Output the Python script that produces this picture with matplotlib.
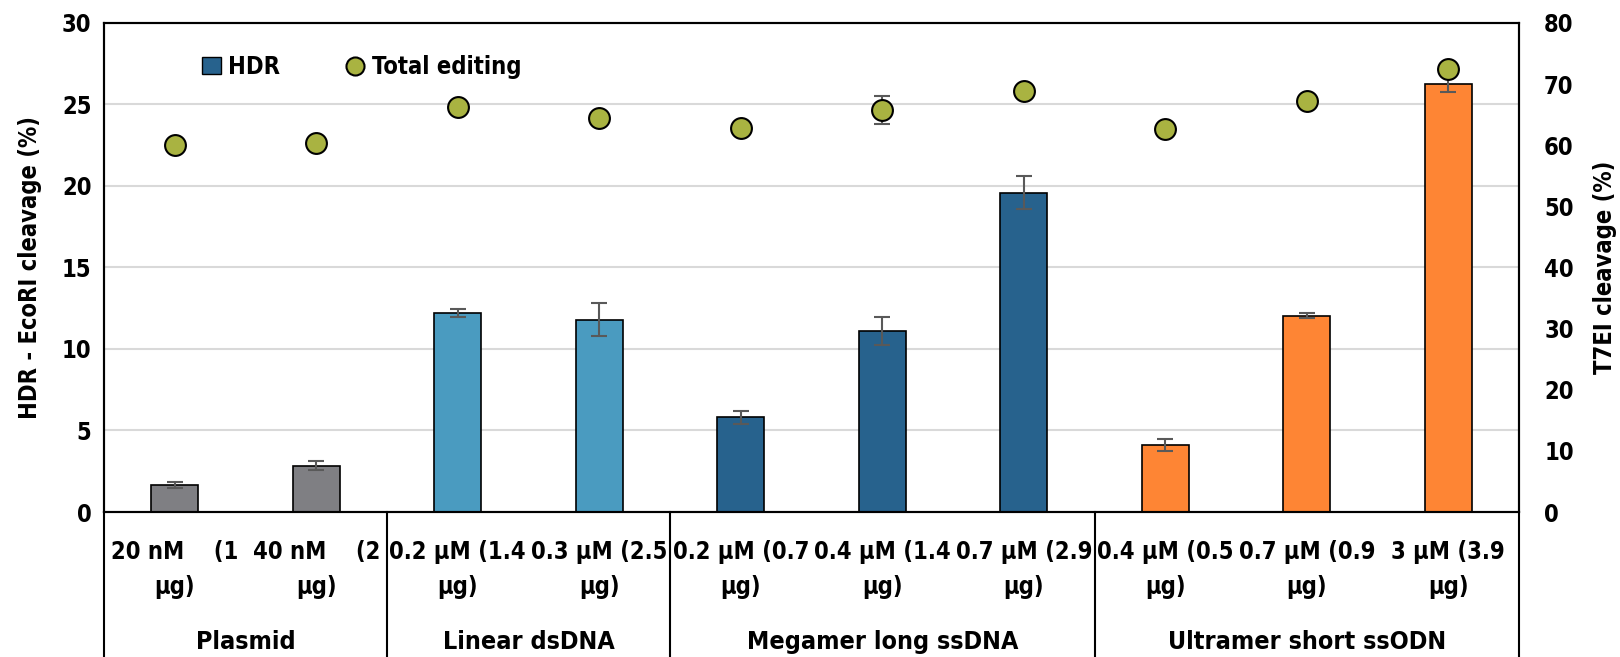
import matplotlib
matplotlib.use("Agg")
import matplotlib.pyplot as plt
from matplotlib.patches import Patch
from matplotlib.lines import Line2D
import numpy as np

# HDR (left axis) and total editing (right axis) per donor dose
dose_top = ["20 nM    (1", "40 nM    (2", "0.2 μM (1.4", "0.3 μM (2.5",
            "0.2 μM (0.7", "0.4 μM (1.4", "0.7 μM (2.9",
            "0.4 μM (0.5", "0.7 μM (0.9", "3 μM (3.9"]
dose_bottom = ["μg)"] * 10
groups = ["Plasmid", "Linear dsDNA", "Megamer long ssDNA", "Ultramer short ssODN"]
group_sizes = [2, 2, 3, 3]

hdr = [1.65, 2.85, 12.2, 11.8, 5.8, 11.1, 19.6, 4.1, 12.05, 26.25]
hdr_err = [0.2, 0.3, 0.25, 1.0, 0.4, 0.85, 1.0, 0.35, 0.15, 0.5]
total = [60.0, 60.4, 66.2, 64.5, 62.8, 65.7, 68.9, 62.7, 67.3, 72.4]
total_err = [0.5, 0.5, 0.5, 0.5, 0.5, 2.3, 0.5, 0.5, 0.5, 0.5]

group_colors = ["#7F7F83", "#4A9BC0", "#27628D", "#FE8534"]
bar_colors = [c for c, n in zip(group_colors, group_sizes) for _ in range(n)]

plt.rcParams['font.family'] = ['DejaVu Sans']
plt.rcParams['font.stretch'] = 'condensed'
plt.rcParams['font.weight'] = 'bold'
fs = 17

fig = plt.figure(figsize=(16.2, 6.57), dpi=100)
ax = fig.add_axes([0.0642, 0.2207, 0.8735, 0.7443])
x = np.arange(len(hdr))

ax.bar(x, hdr, width=0.33, color=bar_colors, edgecolor="black", linewidth=1.2,
       zorder=2)
ax.errorbar(x, hdr, yerr=hdr_err, fmt="none", ecolor="#595959", elinewidth=1.5,
            capsize=6, capthick=1.5, zorder=3)
ax.set_xlim(-0.5, len(hdr) - 0.5)
ax.set_ylim(0, 30)
ax.set_yticks(range(0, 31, 5))
ax.yaxis.grid(True, color="#D9D9D9", linewidth=1.5, zorder=0)
ax.set_axisbelow(True)
ax.set_ylabel("HDR - EcoRI cleavage (%)", fontsize=fs, fontweight="bold", labelpad=14)
ax.set_xticks(x)
ax.set_xticklabels([a + "\n" + b for a, b in zip(dose_top, dose_bottom)],
                   fontsize=fs, fontweight="bold", linespacing=1.6)
ax.tick_params(axis="x", length=0, pad=20)
ax.tick_params(axis="y", length=0, labelsize=fs, pad=9)
for s in ax.spines.values():
    s.set_linewidth(1.5)

ax2 = ax.twinx()
ax2.errorbar(x, total, yerr=total_err, fmt="o", color="#A9B341", markersize=15,
             markeredgecolor="black", markeredgewidth=1.5, ecolor="#595959",
             elinewidth=1.5, capsize=6, capthick=1.5, zorder=4)
ax2.set_ylim(0, 80)
ax2.set_yticks(range(0, 81, 10))
ax2.tick_params(axis="y", length=0, labelsize=fs, pad=18)
ax2.set_ylabel("T7EI cleavage (%)", fontsize=fs, fontweight="bold", labelpad=14)
for s in ax2.spines.values():
    s.set_linewidth(1.5)

# category table lines and group labels
trans = ax.get_xaxis_transform()
bounds = np.concatenate([[0], np.cumsum(group_sizes)]) - 0.5
for b in bounds:
    ax.plot([b, b], [0, -0.3], transform=trans, color="black", linewidth=1.5,
            clip_on=False)
for g, lo, hi in zip(groups, bounds[:-1], bounds[1:]):
    ax.text((lo + hi) / 2, -0.265, g, transform=trans, ha="center", va="center",
            fontsize=18, fontweight="bold")

handles = [Patch(facecolor="#27628D", edgecolor="black"),
           Line2D([], [], marker="o", linestyle="none", markersize=13,
                  markerfacecolor="#A9B341", markeredgecolor="black",
                  markeredgewidth=1.5)]
ax2.legend(handles, ["HDR", "Total editing"], loc="upper left",
           bbox_to_anchor=(0.054, 0.978), ncol=2, frameon=False, fontsize=fs,
           handlelength=0.8, handletextpad=0.3, columnspacing=2.8)

fig.savefig("out.png", dpi=100)
